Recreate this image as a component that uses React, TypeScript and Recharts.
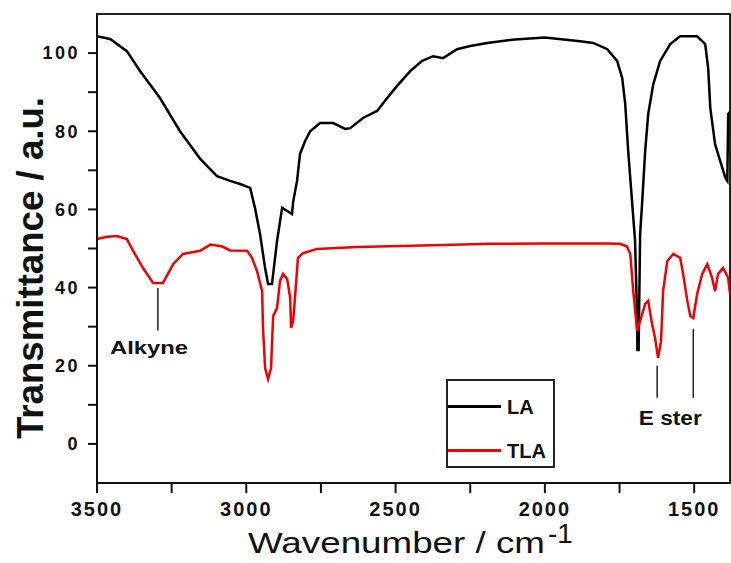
import {
  LineChart,
  Line,
  XAxis,
  YAxis,
  ReferenceArea,
  ReferenceLine,
  ReferenceDot,
  Legend,
} from "recharts";

const FONT = '"Liberation Sans", Arial, sans-serif';

// LA spectrum (wavenumber, transmittance)
const laWavenumbers = [
  3500, 3456, 3400, 3356, 3289, 3222, 3155, 3098, 3054, 3021, 2987, 2971, 2954,
  2937, 2927, 2914, 2897, 2880, 2863, 2847, 2843, 2830, 2820, 2803, 2786, 2753,
  2709, 2669, 2652, 2609, 2562, 2528, 2495, 2451, 2411, 2374, 2341, 2294, 2250,
  2193, 2100, 2000, 1882, 1838, 1791, 1758, 1741, 1731, 1721, 1708, 1698, 1692,
  1690, 1686, 1681, 1674, 1664, 1654, 1637, 1614, 1580, 1547, 1490, 1463, 1453,
  1446, 1430, 1413, 1395, 1389, 1386, 1380,
];
const laValues = [
  104.3, 103.6, 100.5, 95.4, 88.5, 80, 73, 68.5, 67.3, 66.5, 65.5, 60.4, 53.7,
  45, 40.9, 40.9, 51.9, 60.4, 59.6, 58.8, 62, 67.3, 74.2, 77.5, 80, 82.1, 82.1,
  80.6, 80.8, 83.4, 85.2, 88.5, 91.6, 95.4, 98, 99.2, 98.7, 101, 101.8, 102.6,
  103.5, 104, 103, 102.6, 101, 98, 93.6, 87, 75, 62, 52, 35, 24, 24, 53.7, 62,
  75, 84.4, 92, 98, 102.3, 104.3, 104.3, 102.3, 96, 86, 76.7, 72.4, 68, 67.3,
  84.4, 85,
];

// TLA spectrum
const tlaWavenumbers = [
  3500, 3466, 3433, 3400, 3379, 3346, 3312, 3279, 3245, 3212, 3155, 3120, 3080,
  3054, 2997, 2981, 2964, 2947, 2944, 2937, 2927, 2917, 2914, 2910, 2897, 2887,
  2877, 2863, 2853, 2850, 2843, 2837, 2827, 2810, 2763, 2629, 2341, 2183, 2000,
  1800, 1748, 1725, 1714, 1704, 1691, 1681, 1664, 1654, 1641, 1631, 1621, 1611,
  1604, 1590, 1570, 1547, 1537, 1523, 1513, 1503, 1490, 1473, 1456, 1440, 1430,
  1420, 1403, 1386, 1380,
];
const tlaValues = [
  52.4, 53, 53.2, 52.4, 49.4, 45, 41.2, 41.2, 46, 48.6, 49.4, 51, 50.5, 49.5,
  49.4, 47.6, 44.2, 39.1, 29.7, 19.4, 16.6, 19.4, 25.6, 32.7, 34.8, 41.7, 43.5,
  42.2, 37.3, 29.7, 31.5, 37.3, 47.6, 48.8, 49.9, 50.4, 50.9, 51.2, 51.3, 51.3,
  51.2, 50.5, 48.6, 39.1, 28.9, 31.5, 35.8, 36.6, 30.7, 27.1, 22, 26.3, 39.1,
  46.8, 48.6, 47.6, 43.5, 36.6, 32.7, 32.2, 38.4, 43.5, 46, 42.5, 39.1, 43.5,
  45, 42.5, 38.4,
];

const xTicks = [3500, 3250, 3000, 2750, 2500, 2250, 2000, 1750, 1500];
const yTicks = [0, 10, 20, 30, 40, 50, 60, 70, 80, 90, 100];

const laData = laWavenumbers.map((w, i) => ({ w, v: laValues[i] }));
const tlaData = tlaWavenumbers.map((w, i) => ({ w, v: tlaValues[i] }));

const tickStyle = {
  fontSize: 18,
  fontWeight: "bold",
  fill: "#111",
  fontFamily: FONT,
  letterSpacing: 2.5,
};

function YTitle({ viewBox }: any) {
  const cx = viewBox.x + 43;
  const cy = 268;
  return (
    <text
      x={cx}
      y={cy}
      transform={`rotate(-90 ${cx} ${cy})`}
      textAnchor="middle"
      fontSize={36}
      fontWeight="bold"
      fill="#111"
      fontFamily={FONT}
      textLength={342}
      lengthAdjust="spacingAndGlyphs"
    >
      Transmittance / a.u.
    </text>
  );
}

function XTitle() {
  return (
    <g fill="#111" fontFamily={FONT}>
      <text x={248} y={553} fontSize={30} textLength={297} lengthAdjust="spacingAndGlyphs">
        Wavenumber / cm
      </text>
      <text x={548} y={543} fontSize={28}>
        -1
      </text>
    </g>
  );
}

function annot(text: string, size: number, len: number) {
  return ({ viewBox }: any) => (
    <text
      x={viewBox.x}
      y={viewBox.y}
      textAnchor="middle"
      fontSize={size}
      fontWeight="bold"
      fill="#111"
      fontFamily={FONT}
      textLength={len}
      lengthAdjust="spacingAndGlyphs"
    >
      {text}
    </text>
  );
}

function LegendBox({ payload }: any) {
  return (
    <div
      style={{
        position: "relative",
        width: 109,
        height: 89,
        border: "2px solid #222",
        boxSizing: "border-box",
        background: "#fff",
        fontFamily: FONT,
      }}
    >
      {(payload || []).map((p: any, i: number) => (
        <div
          key={p.value}
          style={{ position: "absolute", left: 0, top: i === 0 ? 14 : 58, height: 24, width: 105 }}
        >
          <div
            style={{
              position: "absolute",
              left: 0,
              top: 10,
              width: 53,
              height: 3,
              background: p.color,
            }}
          />
          <span
            style={{
              position: "absolute",
              left: 59,
              top: 0,
              fontSize: 20,
              fontWeight: "bold",
              color: "#111",
              lineHeight: "24px",
            }}
          >
            {p.value}
          </span>
        </div>
      ))}
    </div>
  );
}

export default function App() {
  return (
    <div style={{ position: "absolute", left: 0, top: 0, width: 731, height: 563, background: "#fff", fontFamily: FONT }}>
      <LineChart width={731} height={563} margin={{ top: 14, right: 1, left: 0, bottom: 0 }}>
        <XAxis
          dataKey="w"
          type="number"
          domain={[1380, 3500]}
          reversed
          allowDataOverflow
          ticks={xTicks}
          interval={0}
          tickFormatter={(v: number) => (v % 500 === 0 ? String(v) : "")}
          height={80}
          tickSize={10}
          tickMargin={9}
          axisLine={{ stroke: "#111", strokeWidth: 2 }}
          tickLine={{ stroke: "#111", strokeWidth: 2 }}
          tick={{ ...tickStyle, fontSize: 20, letterSpacing: 2 }}
          label={<XTitle />}
        />
        <YAxis
          type="number"
          domain={[-10, 110]}
          allowDataOverflow
          ticks={yTicks}
          interval={0}
          tickFormatter={(v: number) => (v % 20 === 0 ? String(v) : "")}
          width={97}
          tickSize={9}
          tickMargin={8}
          axisLine={{ stroke: "#111", strokeWidth: 2 }}
          tickLine={{ stroke: "#111", strokeWidth: 2 }}
          tick={tickStyle}
          label={<YTitle />}
        />
        <ReferenceArea x1={3500} x2={1380} y1={-10} y2={110} fill="none" stroke="#222" strokeWidth={2} />
        <ReferenceLine
          segment={[
            { x: 3296, y: 39.9 },
            { x: 3296, y: 29 },
          ]}
          stroke="#222"
          strokeWidth={1.5}
        />
        <ReferenceLine
          segment={[
            { x: 1624, y: 20 },
            { x: 1624, y: 11.8 },
          ]}
          stroke="#222"
          strokeWidth={1.5}
        />
        <ReferenceLine
          segment={[
            { x: 1503, y: 29.4 },
            { x: 1503, y: 11.8 },
          ]}
          stroke="#222"
          strokeWidth={1.5}
        />
        <ReferenceDot x={3326} y={23} r={0} stroke="none" label={annot("Alkyne", 18, 78)} />
        <ReferenceDot x={1580} y={4.9} r={0} stroke="none" label={annot("E ster", 20, 63)} />
        <Line
          data={laData}
          dataKey="v"
          name="LA"
          stroke="#000"
          strokeWidth={2.5}
          dot={false}
          type="linear"
          isAnimationActive={false}
        />
        <Line
          data={tlaData}
          dataKey="v"
          name="TLA"
          stroke="#ee0000"
          strokeWidth={2.5}
          dot={false}
          type="linear"
          isAnimationActive={false}
        />
        <Legend
          layout="vertical"
          align="center"
          verticalAlign="middle"
          content={<LegendBox />}
          wrapperStyle={{ left: 446, top: 379, width: 109, height: 89 }}
        />
      </LineChart>
    </div>
  );
}
